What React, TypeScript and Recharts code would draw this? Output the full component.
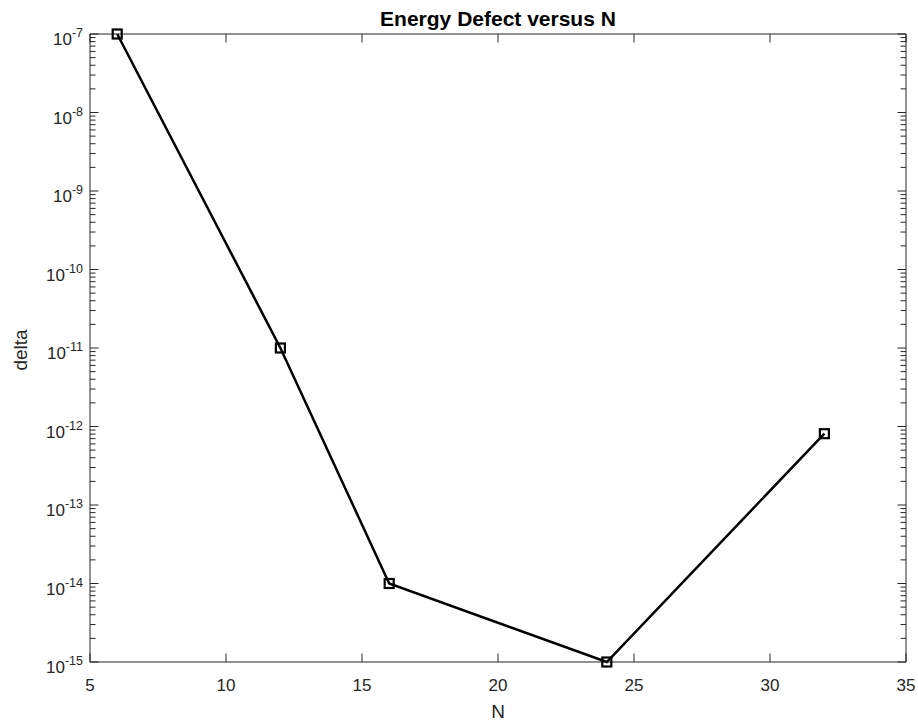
import React from "react";
import { LineChart, Line, XAxis, YAxis } from "recharts";

// values
const nValues = [6, 12, 16, 24, 32];
const deltaValues = [1e-7, 1e-11, 1e-14, 1e-15, 8.1e-13];

const xTicks = [5, 10, 15, 20, 25, 30, 35];
const decades = [-15, -14, -13, -12, -11, -10, -9, -8, -7];
const minorSteps = [2, 3, 4, 5, 6, 7, 8, 9];

const W = 918;
const H = 725;
const PLOT = { left: 90, top: 34, right: 906, bottom: 662 };
const AXIS = "#262626";
const FONT = "'Liberation Sans', Arial, Helvetica, sans-serif";

const data = nValues.map((n, i) => ({ n, delta: deltaValues[i] }));

// log ticks: every decade plus the 2..9 minor ticks in between
const yTicks = decades.flatMap((d, i) =>
  i === decades.length - 1
    ? [Math.pow(10, d)]
    : [Math.pow(10, d), ...minorSteps.map((m) => m * Math.pow(10, d))]
);

const isMajor = (v: number) => {
  const l = Math.log10(v);
  return Math.abs(l - Math.round(l)) < 1e-6;
};

const MAJOR = 8.5;
const MINOR = 5.5;

// bottom tick: inward mark on bottom and top edges (box on), label below
function BottomTick(props: any) {
  const { x } = props;
  const v = props.payload.value;
  return (
    <g>
      <line x1={x} x2={x} y1={PLOT.bottom} y2={PLOT.bottom - MAJOR} stroke={AXIS} />
      <line x1={x} x2={x} y1={PLOT.top} y2={PLOT.top + MAJOR} stroke={AXIS} />
      <text x={x} y={PLOT.bottom + 29} textAnchor="middle" fontSize={17} fill={AXIS} fontFamily={FONT}>
        {v}
      </text>
    </g>
  );
}

// left tick: inward mark on left and right edges, 10^n label for decades
function LeftTick(props: any) {
  const { y } = props;
  const v = props.payload.value;
  const major = isMajor(v);
  const len = major ? MAJOR : MINOR;
  return (
    <g>
      <line x1={PLOT.left} x2={PLOT.left + len} y1={y} y2={y} stroke={AXIS} />
      <line x1={PLOT.right} x2={PLOT.right - len} y1={y} y2={y} stroke={AXIS} />
      {major && (
        <text x={83} y={y + 11} textAnchor="end" fontSize={17} fill={AXIS} fontFamily={FONT}>
          <tspan>10</tspan>
          <tspan dy={-8} fontSize={12.5}>
            {String(Math.round(Math.log10(v)))}
          </tspan>
        </text>
      )}
    </g>
  );
}

function SquareDot(props: any) {
  const { cx, cy } = props;
  if (cx == null || cy == null) return null;
  return <rect x={cx - 4.5} y={cy - 4.5} width={9} height={9} fill="none" stroke="#000" strokeWidth={2.2} />;
}

export default function App() {
  return (
    <div style={{ position: "absolute", left: 0, top: 0, width: W, height: H, background: "#fff" }}>
      <LineChart
        width={W}
        height={H}
        data={data}
        margin={{ left: PLOT.left - 1, top: PLOT.top - 1, right: W - PLOT.right - 1, bottom: H - PLOT.bottom - 1 }}
      >
        <XAxis
          xAxisId="b"
          dataKey="n"
          type="number"
          domain={[5, 35]}
          ticks={xTicks}
          height={1}
          tickLine={false}
          stroke={AXIS}
          tick={<BottomTick />}
          interval={0}
        />
        <XAxis
          xAxisId="t"
          orientation="top"
          dataKey="n"
          type="number"
          domain={[5, 35]}
          height={1}
          tickLine={false}
          stroke={AXIS}
          tick={false}
        />
        <YAxis
          yAxisId="l"
          scale="log"
          type="number"
          domain={[1e-15, 1e-7]}
          ticks={yTicks}
          width={1}
          tickLine={false}
          stroke={AXIS}
          tick={<LeftTick />}
          interval={0}
        />
        <YAxis
          yAxisId="r"
          orientation="right"
          type="number"
          domain={[0, 1]}
          width={1}
          tickLine={false}
          stroke={AXIS}
          tick={false}
        />
        <Line
          xAxisId="b"
          yAxisId="l"
          dataKey="delta"
          type="linear"
          stroke="#000"
          strokeWidth={2.5}
          dot={<SquareDot />}
          activeDot={false}
          isAnimationActive={false}
        />
        <text x={(PLOT.left + PLOT.right) / 2} y={26} textAnchor="middle" fontSize={21} fontWeight="bold" fill="#000" fontFamily={FONT}>
          Energy Defect versus N
        </text>
        <text x={(PLOT.left + PLOT.right) / 2} y={718} textAnchor="middle" fontSize={19} fill={AXIS} fontFamily={FONT}>
          N
        </text>
        <text
          x={27}
          y={350}
          textAnchor="middle"
          fontSize={19}
          fill={AXIS}
          fontFamily={FONT}
          transform="rotate(-90 27 350)"
        >
          delta
        </text>
      </LineChart>
    </div>
  );
}
